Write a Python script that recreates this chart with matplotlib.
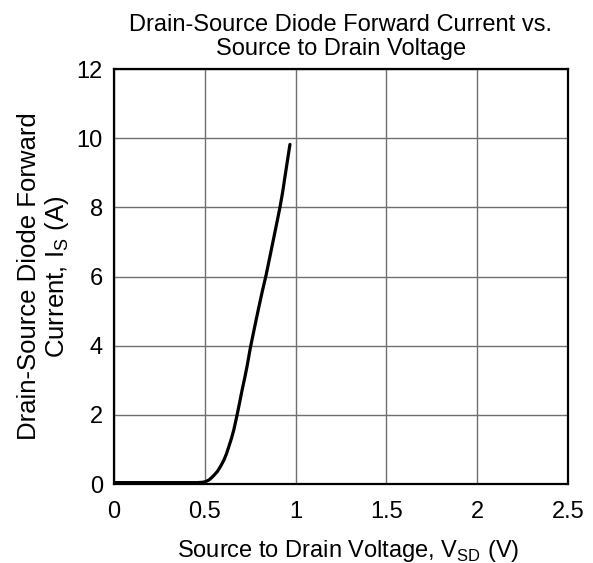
import numpy as np
import matplotlib
matplotlib.use('Agg')
from matplotlib import pyplot as plt

plt.rcParams['font.family'] = ['Liberation Sans', 'DejaVu Sans']
plt.rcParams['mathtext.fontset'] = 'custom'
plt.rcParams['mathtext.rm'] = 'Liberation Sans'

# curve (V_SD in volts, I_S in amps)
vsd = [0.0, 0.30, 0.46, 0.487, 0.505, 0.524, 0.545, 0.569, 0.588, 0.606,
       0.620, 0.633, 0.647, 0.660, 0.678, 0.692, 0.706, 0.720, 0.733,
       0.751, 0.775, 0.797, 0.818, 0.838, 0.858, 0.878, 0.897, 0.914,
       0.929, 0.942, 0.956, 0.969]
i_s = [0.04, 0.04, 0.04, 0.05, 0.07, 0.12, 0.22, 0.36, 0.52, 0.70,
       0.88, 1.09, 1.32, 1.57, 2.00, 2.36, 2.73, 3.07, 3.41,
       3.94, 4.55, 5.10, 5.60, 6.05, 6.56, 7.07, 7.56, 8.00,
       8.45, 8.90, 9.38, 9.82]

xticks = [0, 0.5, 1, 1.5, 2, 2.5]
xticklabels = ['0', '0.5', '1', '1.5', '2', '2.5']
yticks = [0, 2, 4, 6, 8, 10, 12]

fig = plt.figure(figsize=(5.93, 5.63), dpi=100)
ax = fig.add_axes([0.1922, 0.1403, 0.7656, 0.737])

ax.plot(vsd, i_s, color='black', lw=2.3, solid_capstyle='round', zorder=3)

ax.set_xlim(0, 2.5)
ax.set_ylim(0, 12)
ax.set_xticks(xticks)
ax.set_xticklabels(xticklabels)
ax.set_yticks(yticks)
ax.grid(True, color='#707070', lw=1.0)
ax.tick_params(length=0, labelsize=17)
ax.tick_params(axis='x', pad=12)
ax.tick_params(axis='y', pad=8)
for s in ax.spines.values():
    s.set_linewidth(1.6)
    s.set_color('black')

ax.set_title('Drain-Source Diode Forward Current vs.\nSource to Drain Voltage',
             fontsize=17, pad=10, linespacing=1.15)
ax.set_xlabel('Source to Drain Voltage, V$_{\\mathregular{SD}}$ (V)', fontsize=17)
ax.xaxis.set_label_coords(0.515, -0.129)
ax.set_ylabel('Drain-Source Diode Forward\nCurrent, I$_{\\mathregular{S}}$ (A)', fontsize=18.5,
              linespacing=1.1)
ax.yaxis.set_label_coords(-0.094, 0.5)

fig.savefig('out.png', dpi=100)
